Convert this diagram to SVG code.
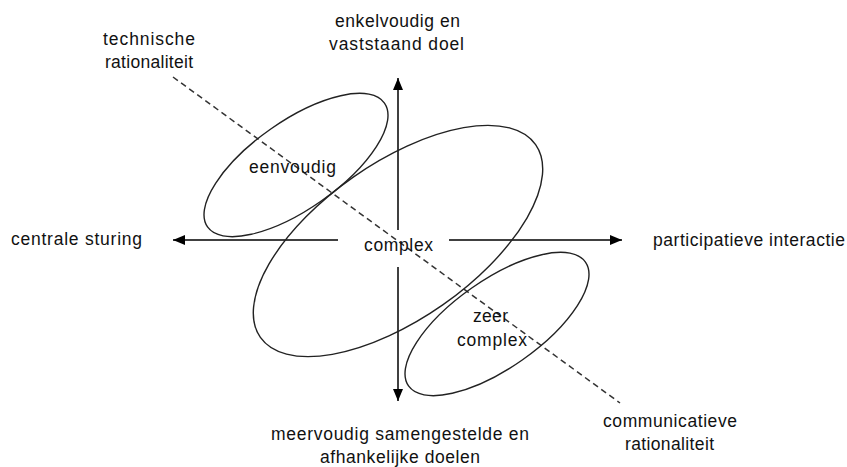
<svg xmlns="http://www.w3.org/2000/svg" width="847" height="467" viewBox="0 0 847 467">
  <style>
    .lbl { font-family: "Liberation Sans", Arial, sans-serif; font-size: 17.5px; fill: #111; }
    .oval { fill: none; stroke: #222; stroke-width: 1.4; }
    .axis { stroke: #000; stroke-width: 1.5; fill: none; marker-end: url(#head); }
    .diag { stroke: #333; stroke-width: 1.5; stroke-dasharray: 6 4; fill: none; }
  </style>
  <defs>
    <marker id="head" markerUnits="userSpaceOnUse" markerWidth="13" markerHeight="11" refX="12" refY="5" orient="auto">
      <path d="M0,0 L12,5 L0,10 Z" fill="#000"/>
    </marker>
  </defs>
  <rect width="847" height="467" fill="#fff"/>

  <!-- axes and the dashed rationality line -->
  <g id="connectors">
    <line class="diag" x1="173" y1="77" x2="620" y2="403"/>
    <line class="axis" x1="398" y1="230" x2="398" y2="78"/>
    <line class="axis" x1="398" y1="267" x2="398" y2="401"/>
    <line class="axis" x1="338" y1="240" x2="173" y2="240"/>
    <line class="axis" x1="449" y1="240" x2="622" y2="240"/>
  </g>

  <!-- problem types as tilted ovals -->
  <g id="complex">
    <ellipse class="oval" cx="0" cy="0" rx="168" ry="78" transform="translate(398 241) rotate(-35)"/>
    <text class="lbl" x="364" y="251" textLength="69" lengthAdjust="spacing">complex</text>
  </g>
  <g id="eenvoudig">
    <ellipse class="oval" cx="0" cy="0" rx="108" ry="44" transform="translate(296 165) rotate(-35)"/>
    <text class="lbl" x="249" y="173" textLength="87" lengthAdjust="spacing">eenvoudig</text>
  </g>
  <g id="zeer-complex">
    <ellipse class="oval" cx="0" cy="0" rx="108" ry="44" transform="translate(497 324) rotate(-35)"/>
    <text class="lbl" x="473" y="322" textLength="35" lengthAdjust="spacing">zeer</text>
    <text class="lbl" x="457" y="346" textLength="70" lengthAdjust="spacing">complex</text>
  </g>

  <!-- axis end labels -->
  <g id="doel-enkel">
    <text class="lbl" x="335" y="27" textLength="125" lengthAdjust="spacing">enkelvoudig en</text>
    <text class="lbl" x="329" y="50" textLength="135" lengthAdjust="spacing">vaststaand doel</text>
  </g>
  <g id="doel-meervoudig">
    <text class="lbl" x="271" y="440" textLength="258" lengthAdjust="spacing">meervoudig samengestelde en</text>
    <text class="lbl" x="320" y="463" textLength="160" lengthAdjust="spacing">afhankelijke doelen</text>
  </g>
  <g id="centrale-sturing">
    <text class="lbl" x="11" y="245" textLength="131" lengthAdjust="spacing">centrale sturing</text>
  </g>
  <g id="participatieve-interactie">
    <text class="lbl" x="653" y="246" textLength="192" lengthAdjust="spacing">participatieve interactie</text>
  </g>
  <g id="technische-rationaliteit">
    <text class="lbl" x="103" y="45" textLength="92" lengthAdjust="spacing">technische</text>
    <text class="lbl" x="105" y="68" textLength="88" lengthAdjust="spacing">rationaliteit</text>
  </g>
  <g id="communicatieve-rationaliteit">
    <text class="lbl" x="603" y="427" textLength="134" lengthAdjust="spacing">communicatieve</text>
    <text class="lbl" x="625" y="450" textLength="89" lengthAdjust="spacing">rationaliteit</text>
  </g>
</svg>
